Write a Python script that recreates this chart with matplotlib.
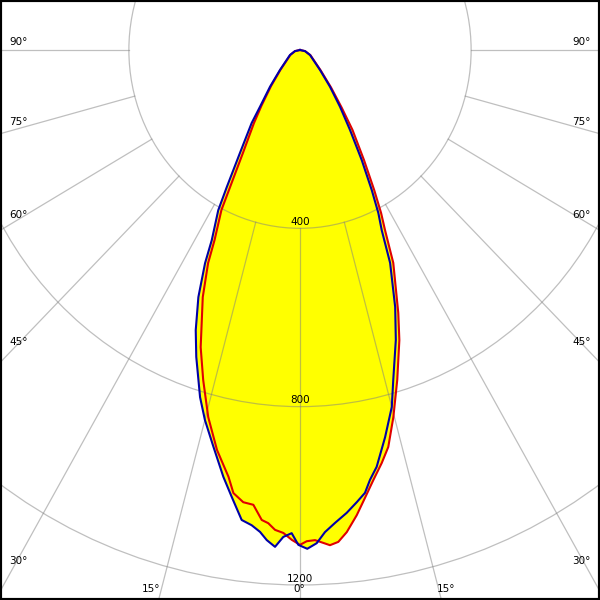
import numpy as np
import matplotlib
matplotlib.use("Agg")
import matplotlib.pyplot as plt
from matplotlib.patches import Circle

# luminous intensity (cd) against gamma angle (deg)
gamma_c0 = [-90, -78, -64.4, -46.2, -40.4, -36.3, -34.6, -31.3, -29.1, -28.0,
            -25.8, -24.9, -23.2, -21.2, -19.4, -16.7, -15.0, -12.8, -10.6, -9.05,
            -7.37, -6.05, -4.94, -4.05, -3.0, -2.05, -1.03, -0.2, 0.87, 2.02,
            3.09, 4.41, 6.0, 7.45, 8.69, 9.63, 10.85, 12.9, 15.0, 16.4,
            19.0, 21.1, 23.8, 25.3, 26.6, 28.1, 30.3, 33.1, 36.3, 40.4,
            46.2, 64.4, 78, 90]
cd_c0 = [0, 12, 26, 65, 108, 158, 199, 270, 352, 407,
         474, 527, 603, 674, 730, 813, 859, 913, 974, 1015,
         1063, 1072, 1085, 1102, 1116, 1093, 1084, 1110, 1119, 1107,
         1083, 1064, 1044, 1023, 1005, 978, 952, 891, 829, 772,
         688, 618, 522, 447, 409, 356, 286, 214, 158, 108,
         65, 26, 12, 0]

gamma_c90 = [-90, -78, -64, -46, -40, -35.8, -33.3, -30.0, -28.0, -27.1,
             -25.1, -24.2, -22.3, -19.2, -17.0, -14.6, -12.2, -9.9, -8.9, -7.45,
             -6.1, -4.85, -4.0, -3.1, -2.06, -1.0, 0, 0.82, 1.83, 2.82,
             3.61, 4.64, 5.77, 7.24, 8.6, 10.07, 11.65, 13.05, 14.84, 17.08,
             19.64, 21.28, 24.54, 26.2, 27.4, 28.9, 31.2, 34.4, 37.0, 40.8,
             46.5, 64.5, 78, 90]
cd_c90 = [0, 12, 25, 63, 105, 154, 196, 267, 348, 403,
          471, 524, 599, 706, 774, 851, 918, 972, 1006, 1023,
          1026, 1058, 1064, 1078, 1084, 1099, 1110, 1102, 1100, 1107,
          1113, 1107, 1087, 1052, 1016, 980, 946, 914, 852, 774,
          691, 633, 525, 450, 412, 359, 289, 217, 162, 111,
          67, 27, 12, 0]

rings = [400, 800, 1200]
spokes = [-90, -75, -60, -45, -30, -15, 0, 15, 30, 45, 60, 75, 90]

# angle labels sit along the picture edges (pixel positions)
left_labels = [("90°", 42), ("75°", 122), ("60°", 215), ("45°", 342), ("30°", 561)]
bottom_labels = [("15°", 151), ("0°", 299), ("15°", 446)]


def to_xy(gamma, cd):
    g = np.radians(gamma)
    cd = np.asarray(cd, dtype=float)
    return cd * np.sin(g), -cd * np.cos(g)


fig = plt.figure(figsize=(6, 6), dpi=100)
ax = fig.add_axes([0, 0, 1, 1])

# horizontal and vertical scales differ slightly in the original
ax.set_xlim(-300 / 0.4278, 300 / 0.4278)
ax.set_ylim(-550 / 0.4458, 50 / 0.4458)
ax.set_aspect("auto")
ax.set_xticks([])
ax.set_yticks([])
for sp in ax.spines.values():
    sp.set_linewidth(3)
    sp.set_color("black")

x0, y0 = to_xy(gamma_c0, cd_c0)
x90, y90 = to_xy(gamma_c90, cd_c90)
ax.fill(x0, y0, color="#ffff00", zorder=1, lw=0)
ax.fill(x90, y90, color="#ffff00", zorder=1, lw=0)

grid_kw = dict(color="#808080", alpha=0.5, lw=0.9, zorder=2)
for r in rings:
    ax.add_patch(Circle((0, 0), r, fill=False, **grid_kw))
    ax.annotate(str(r), (0, -r), xytext=(0, 1), textcoords="offset points",
                ha="center", va="bottom", fontsize=7.5, zorder=4)
for a in spokes:
    xs, ys = to_xy([a, a], [rings[0], 3000])
    ax.plot(xs, ys, **grid_kw)

ax.plot(x90, y90, color="#e00000", lw=1.5, zorder=3, solid_joinstyle="round")
ax.plot(x0, y0, color="#0000a8", lw=1.5, zorder=3, solid_joinstyle="round")

for txt, py in left_labels:
    fig.text(9 / 600, 1 - py / 600, txt, ha="left", va="center", fontsize=7.5)
    fig.text(591 / 600, 1 - py / 600, txt, ha="right", va="center", fontsize=7.5)
for txt, px in bottom_labels:
    fig.text(px / 600, 1 - 589 / 600, txt, ha="center", va="center", fontsize=7.5)

fig.savefig("out.png", dpi=100)
